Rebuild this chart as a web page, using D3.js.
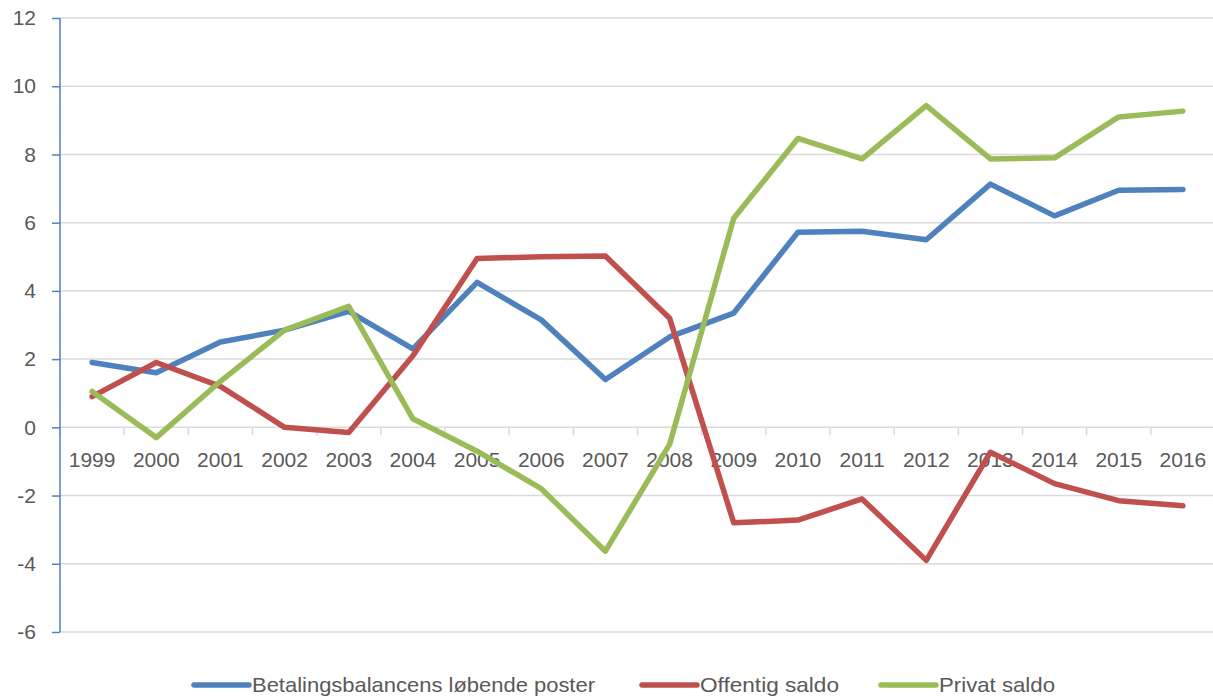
<!DOCTYPE html>
<html>
<head>
<meta charset="utf-8">
<script src="https://cdn.jsdelivr.net/npm/d3@7"></script>
<style>
  body { margin: 0; background: #fff; }
  text { font-family: "Liberation Sans", Arial, sans-serif; fill: #595959; }
</style>
</head>
<body>
<div id="root"></div>
<script>
// years along the x axis
var years = ['1999', '2000', '2001', '2002', '2003', '2004', '2005', '2006', '2007',
  '2008', '2009', '2010', '2011', '2012', '2013', '2014', '2015', '2016'];

var betalingsbalance = [1.9, 1.6, 2.5, 2.85, 3.4, 2.3, 4.25, 3.15, 1.4,
  2.65, 3.35, 5.72, 5.75, 5.5, 7.13, 6.2, 6.95, 6.97];
var offentligSaldo = [0.9, 1.9, 1.2, 0.0, -0.15, 2.1, 4.95, 5.0, 5.02,
  3.2, -2.8, -2.72, -2.1, -3.9, -0.73, -1.65, -2.15, -2.3];
var privatSaldo = [1.05, -0.3, 1.35, 2.85, 3.55, 0.25, -0.7, -1.8, -3.63,
  -0.5, 6.13, 8.47, 7.87, 9.43, 7.87, 7.9, 9.1, 9.27];

var yTicks = [-6, -4, -2, 0, 2, 4, 6, 8, 10, 12];

var seriesNames = ['Betalingsbalancens løbende poster', 'Offentig saldo', 'Privat saldo'];
var seriesColors = ['#4F81BD', '#C0504D', '#9BBB59'];

var width = 1213, height = 698;

var svg = d3.select('#root')
  .append('svg')
    .attr('width', width)
    .attr('height', height);

var x = d3.scaleBand()
  .domain(years)
  .range([60, 1215])
  .padding(0);

var y = d3.scaleLinear()
  .domain([-6, 12])
  .range([632, 18]);

// horizontal gridlines
svg.append('g')
  .selectAll('line')
  .data(yTicks)
  .enter()
  .append('line')
    .attr('x1', 60)
    .attr('x2', width)
    .attr('y1', d => y(d))
    .attr('y2', d => y(d))
    .attr('stroke', '#D9D9D9')
    .attr('stroke-width', 1.5);

// category tick marks hanging below the zero line
var edges = years.map(d => x(d)).concat([x.range()[1]]);
svg.append('g')
  .selectAll('line')
  .data(edges)
  .enter()
  .append('line')
    .attr('x1', d => d)
    .attr('x2', d => d)
    .attr('y1', y(0))
    .attr('y2', y(0) + 8)
    .attr('stroke', '#D9D9D9')
    .attr('stroke-width', 1.5);

// year labels
svg.append('g')
  .selectAll('text')
  .data(years)
  .enter()
  .append('text')
    .attr('x', d => x(d) + x.bandwidth() / 2)
    .attr('y', y(0) + 40)
    .attr('text-anchor', 'middle')
    .style('font-size', '21px')
    .text(d => d);

// y axis (blue line with outward ticks), plain hyphen for negatives
var yAxis = svg.append('g')
  .attr('transform', 'translate(60,0)')
  .call(d3.axisLeft(y)
    .tickValues(yTicks)
    .tickFormat(d => String(d))
    .tickSize(8)
    .tickPadding(16));

yAxis.select('.domain')
  .attr('stroke', '#4F81BD')
  .attr('stroke-width', 1.5)
  .attr('d', 'M0,' + y(12) + 'V' + y(-6));
yAxis.selectAll('.tick line')
  .attr('stroke', '#4F81BD')
  .attr('stroke-width', 1.5);
yAxis.selectAll('.tick text')
  .style('font-size', '21px')
  .style('font-family', '"Liberation Sans", Arial, sans-serif')
  .attr('fill', '#595959');

// lines
var allSeries = [betalingsbalance, offentligSaldo, privatSaldo];
var line = d3.line()
  .x((d, i) => x(years[i]) + x.bandwidth() / 2)
  .y(d => y(d));

svg.append('g')
  .selectAll('path')
  .data(allSeries)
  .enter()
  .append('path')
    .attr('d', d => line(d))
    .attr('fill', 'none')
    .attr('stroke', (d, i) => seriesColors[i])
    .attr('stroke-width', 5.5)
    .attr('stroke-linejoin', 'round')
    .attr('stroke-linecap', 'round');

// legend
var legendX = [194, 642, 881];
var legendTextW = [343, 139, 116];
var legend = svg.append('g')
  .selectAll('g')
  .data(seriesNames)
  .enter()
  .append('g')
    .attr('transform', (d, i) => 'translate(' + legendX[i] + ',685)');

legend.append('line')
  .attr('x1', 0)
  .attr('x2', 55)
  .attr('stroke', (d, i) => seriesColors[i])
  .attr('stroke-width', 5.5)
  .attr('stroke-linecap', 'round');

legend.append('text')
  .attr('x', 58)
  .attr('dy', '0.35em')
  .attr('textLength', (d, i) => legendTextW[i])
  .attr('lengthAdjust', 'spacingAndGlyphs')
  .style('font-size', '21px')
  .text(d => d);
</script>
</body>
</html>
